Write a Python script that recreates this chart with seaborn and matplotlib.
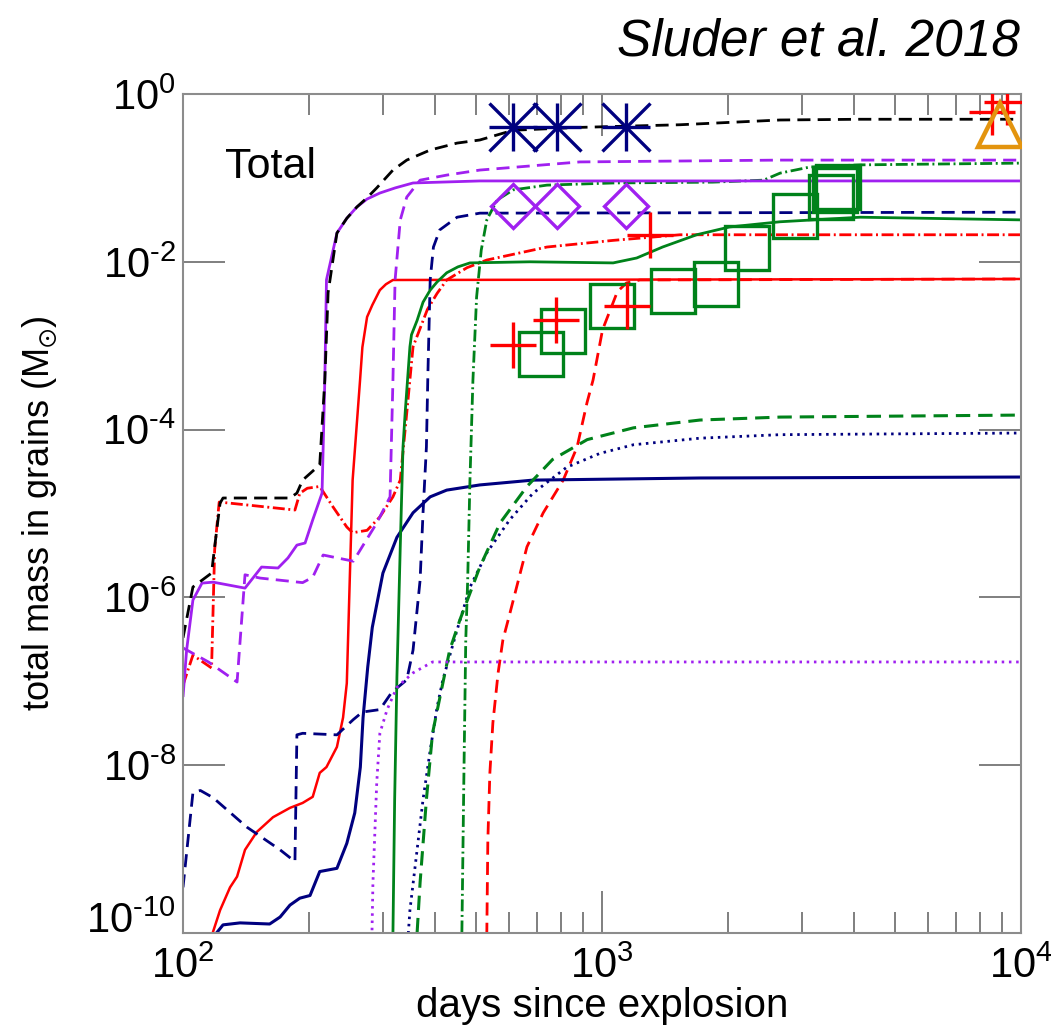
import matplotlib
matplotlib.use("Agg")
import matplotlib.pyplot as plt
import seaborn as sns
from matplotlib.ticker import FixedLocator, NullFormatter, NullLocator

# ---- grain-mass tracks (days since explosion, total mass in Msun) ----
total_t = [100, 105.6, 117, 119, 122.6, 124.6, 180, 187, 193, 212, 218, 222, 233, 246, 260,
           275, 290, 317, 342, 389, 451, 511, 614, 885, 1535, 2661, 4133, 10000]
total_m = [3.3e-7, 1.33e-6, 1.95e-6, 4.0e-6, 1.33e-5, 1.53e-5, 1.53e-5, 1.75e-5, 2.5e-5,
           3.8e-5, 3.9e-4, 4.3e-3, 0.022, 0.033, 0.045, 0.058, 0.076, 0.124, 0.163, 0.215,
           0.26, 0.283, 0.37, 0.40, 0.43, 0.49, 0.50, 0.50]

purple_solid_t = [100, 102, 105.6, 111, 118, 140.6, 154, 168.6, 178, 187, 195.6, 204,
                  214.7, 218, 220, 233, 246, 260, 275, 295, 321, 354, 511, 10000]
purple_solid_m = [6.5e-8, 2.35e-7, 9.3e-7, 1.48e-6, 1.52e-6, 1.29e-6, 2.3e-6, 2.24e-6,
                  2.95e-6, 4.2e-6, 4.45e-6, 8.4e-6, 1.75e-5, 3.9e-4, 6.1e-3, 0.022, 0.033,
                  0.045, 0.056, 0.066, 0.076, 0.087, 0.092, 0.092]

purple_dash_t = [100, 115, 134.6, 140.6, 152.7, 193, 204, 216, 255, 290, 312, 317, 320.7,
                 330, 342, 368, 426, 511, 885, 2661, 10000]
purple_dash_m = [2.5e-7, 1.7e-7, 9.8e-8, 1.86e-6, 1.7e-6, 1.5e-6, 1.74e-6, 3.2e-6, 2.7e-6,
                 7.7e-6, 1.58e-5, 3.9e-4, 6.0e-3, 0.0315, 0.059, 0.094, 0.108, 0.124, 0.155,
                 0.163, 0.163]

purple_dot_t = [280, 284, 290, 295, 307, 324, 354, 394, 10000]
purple_dot_m = [1e-11, 4.0e-10, 6.2e-9, 2.4e-8, 4.6e-8, 8.5e-8, 1.26e-7, 1.7e-7, 1.7e-7]

navy_solid_t = [116, 124.6, 136.8, 161, 170.5, 180, 190, 201, 212, 233, 246, 257, 265, 269,
                276, 283, 300, 324, 354, 389, 426, 511, 684, 1713, 10000]
navy_solid_m = [8e-11, 1.25e-10, 1.32e-10, 1.28e-10, 1.55e-10, 2.15e-10, 2.6e-10, 2.8e-10,
                5.4e-10, 5.9e-10, 1.17e-9, 2.7e-9, 9.5e-9, 3.7e-8, 1.48e-7, 4.4e-7, 1.95e-6,
                5.2e-6, 1.02e-5, 1.58e-5, 1.9e-5, 2.19e-5, 2.5e-5, 2.65e-5, 2.72e-5]

navy_dash_t = [100, 105.6, 110, 118, 142, 170.5, 185, 187, 193, 233, 255, 268, 295, 315, 342,
               354, 368, 374, 381, 384, 389, 396, 410, 451, 511, 10000]
navy_dash_m = [3.5e-10, 4.7e-9, 5.0e-9, 4.1e-9, 1.83e-9, 9.8e-10, 7.1e-10, 2.3e-8, 2.4e-8,
               2.3e-8, 3.5e-8, 4.3e-8, 4.6e-8, 7.4e-8, 1.04e-7, 2.35e-7, 1.6e-6, 1.02e-5,
               6.2e-5, 4.3e-4, 6.1e-3, 0.015, 0.024, 0.034, 0.038, 0.039]

navy_dot_t = [343, 345, 348, 362, 374, 389, 404, 417, 451, 484, 531, 602, 684, 823, 988,
              1189, 1713, 2661, 10000]
navy_dot_m = [3e-11, 1e-10, 1.87e-10, 9.8e-10, 3.9e-9, 1.5e-8, 4.9e-8, 1.04e-7, 4.1e-7,
              1.32e-6, 3.4e-6, 8.4e-6, 1.74e-5, 3.55e-5, 5.2e-5, 6.6e-5, 7.9e-5, 8.7e-5, 9.1e-5]

red_solid_t = [116, 122.6, 129.5, 134.6, 140.6, 150, 164, 180, 193, 204, 212, 220, 233, 241,
               246, 250, 254, 264.6, 268, 275, 283, 295, 305, 317, 10000]
red_solid_m = [8e-11, 1.87e-10, 3.5e-10, 4.7e-10, 9.8e-10, 1.6e-9, 2.4e-9, 3.1e-9, 3.55e-9,
               4.2e-9, 8.1e-9, 9.5e-9, 1.65e-8, 3.7e-8, 9.5e-8, 1.6e-6, 2.5e-5, 3.9e-4,
               9.6e-4, 2.2e-3, 3.05e-3, 4.6e-3, 5.4e-3, 6.07e-3, 6.24e-3]

red_dash_t = [528, 531, 534, 540, 549, 565, 580, 603, 662, 724, 808, 872, 921, 952, 1003,
              1088, 1144, 1231, 10000]
red_dash_m = [1e-11, 1e-10, 1.28e-9, 8.1e-9, 3.2e-8, 1.26e-7, 3.1e-7, 6.5e-7, 4.0e-6,
              1.02e-5, 2.5e-5, 6.2e-5, 2.1e-4, 3.9e-4, 1.55e-3, 4.4e-3, 5.6e-3, 6.07e-3, 6.24e-3]

red_dashdot_t = [100, 105.6, 117, 119, 122, 185, 190, 198, 212, 228, 246, 254, 275, 295, 317,
                 330, 342, 354, 383, 404, 426, 476, 531, 739, 1063, 1535, 10000]
red_dashdot_m = [9e-8, 2.05e-7, 1.44e-7, 3.7e-6, 1.37e-5, 1.1e-5, 1.74e-5, 2.0e-5, 2.1e-5,
                 1.2e-5, 6.9e-6, 5.9e-6, 6.3e-6, 9.1e-6, 1.58e-5, 2.5e-5, 1.58e-4, 9.7e-4,
                 2.7e-3, 4.2e-3, 6.07e-3, 8.5e-3, 0.0105, 0.015, 0.018, 0.021, 0.021]

green_solid_t = [316, 317, 320, 324, 330, 335, 339, 348, 351, 362, 374, 389, 404, 426, 453,
                 484, 673, 1063, 1210, 1395, 1682, 2014, 2661, 4133, 10000]
green_solid_m = [1e-11, 1e-10, 3.9e-9, 1.12e-7, 4.0e-6, 6.2e-5, 1.58e-4, 9.7e-4, 1.35e-3,
                 2.0e-3, 3.3e-3, 4.6e-3, 5.75e-3, 7.4e-3, 8.7e-3, 9.7e-3, 0.010, 9.7e-3,
                 0.0111, 0.015, 0.021, 0.026, 0.030, 0.034, 0.0316]

green_dash_t = [360, 362, 368, 381, 394, 417, 433, 458, 511, 571, 662, 762, 922, 1189, 1713,
                2661, 10000]
green_dash_m = [3e-11, 1e-10, 4.0e-10, 3.9e-9, 2.4e-8, 9.5e-8, 2.35e-7, 5.4e-7, 2.3e-6,
                7.7e-6, 2.1e-5, 4.4e-5, 7.6e-5, 1.05e-4, 1.3e-4, 1.41e-4, 1.49e-4]

green_dashdot_t = [462, 463, 468, 473, 478, 484, 492, 502, 515, 531, 562, 614, 739, 1063,
                   1839, 2430, 2661, 3140, 4133, 10000]
green_dashdot_m = [1e-11, 1e-10, 6.6e-9, 3.1e-7, 1.6e-6, 2.5e-5, 3.9e-4, 3.8e-3, 0.0138,
                   0.0316, 0.0546, 0.072, 0.082, 0.087, 0.089, 0.094, 0.114, 0.135, 0.143, 0.150]

# ---- observed dust masses ----
star_t = [614, 781, 1144]
star_m = [0.40, 0.40, 0.40]
diamond_t = [614, 781, 1144]
diamond_m = [0.046, 0.046, 0.046]
plus_t = [614, 777, 1148, 1304, 8530, 9270]
plus_m = [1.02e-3, 2.03e-3, 2.97e-3, 0.0209, 0.61, 0.80]
square_t = [714, 807, 1056, 1476, 1871, 2218, 2890, 3524, 3600, 3660]
square_m = [7.9e-4, 1.5e-3, 2.97e-3, 4.49e-3, 5.44e-3, 0.0146, 0.0352, 0.0592, 0.0717, 0.078]
triangle_t = [8920]
triangle_m = [0.427]

xtick_vals = [1e2, 1e3, 1e4]
xtick_text = [r"$10^{2}$", r"$10^{3}$", r"$10^{4}$"]
ytick_vals = [1e-10, 1e-8, 1e-6, 1e-4, 1e-2, 1e0]
ytick_text = [r"$10^{‐10}$", r"$10^{‐8}$", r"$10^{‐6}$", r"$10^{‐4}$", r"$10^{‐2}$",
              r"$10^{0}$"]

# ---- style ----
sns.set_theme(style="white")
plt.rcParams["font.family"] = ["Liberation Sans", "DejaVu Sans"]
plt.rcParams["mathtext.fontset"] = "custom"
plt.rcParams["mathtext.rm"] = "Liberation Sans"
plt.rcParams["mathtext.it"] = "Liberation Sans:italic"
plt.rcParams["mathtext.default"] = "regular"
plt.rcParams["lines.dash_capstyle"] = "butt"
plt.rcParams["lines.solid_capstyle"] = "butt"

BLACK = "#000000"
PURPLE = "#A020F0"
NAVY = "#00007F"
RED = "#FF0000"
GREEN = "#00821A"
ORANGE = "#E3940E"

SOLID = "-"
DASH = (0, (4.7, 2.6))
DASHDOT = (0, (4.3, 1.3, 0.7, 1.3))
DOT = (0, (0.9, 1.7))

fig = plt.figure(figsize=(10.51, 10.33), dpi=100)
ax = fig.add_axes([183 / 1051, 1 - 933 / 1033, 838 / 1051, 839 / 1033])
ax.set_xscale("log")
ax.set_yscale("log")

tracks = [
    (red_solid_t, red_solid_m, RED, SOLID, 1.8),
    (red_dash_t, red_dash_m, RED, DASH, 2.0),
    (red_dashdot_t, red_dashdot_m, RED, DASHDOT, 2.0),
    (navy_solid_t, navy_solid_m, NAVY, SOLID, 2.2),
    (navy_dash_t, navy_dash_m, NAVY, DASH, 2.0),
    (navy_dot_t, navy_dot_m, NAVY, DOT, 2.0),
    (green_solid_t, green_solid_m, GREEN, SOLID, 2.0),
    (green_dash_t, green_dash_m, GREEN, DASH, 2.2),
    (green_dashdot_t, green_dashdot_m, GREEN, DASHDOT, 2.0),
    (purple_dot_t, purple_dot_m, PURPLE, DOT, 2.0),
    (purple_dash_t, purple_dash_m, PURPLE, DASH, 2.0),
    (purple_solid_t, purple_solid_m, PURPLE, SOLID, 2.0),
    (total_t, total_m, BLACK, DASH, 2.0),
]
for t, m, c, ls, lw in tracks:
    sns.lineplot(x=t, y=m, ax=ax, color=c, linestyle=ls, linewidth=lw,
                 estimator=None, sort=False)

# observations
mk = dict(linestyle="none", zorder=5)
ax.plot(square_t, square_m, marker="s", ms=32, mfc="none", mec=GREEN, mew=2.4, **mk)
ax.plot(diamond_t, diamond_m, marker="D", ms=22.5, mfc="none", mec=PURPLE, mew=2.4, **mk)
ax.plot(star_t, star_m, marker="+", ms=34, mec=NAVY, mew=2.4, **mk)
ax.plot(star_t, star_m, marker="x", ms=34, mec=NAVY, mew=2.4, **mk)
ax.plot(plus_t, plus_m, marker="+", ms=33, mec=RED, mew=2.4, **mk)
ax.plot(triangle_t, triangle_m, marker="^", ms=32, mfc="none", mec=ORANGE, mew=3.2, **mk)

ax.set_xlim(100, 1e4)
ax.set_ylim(1e-10, 1)

ax.xaxis.set_major_locator(FixedLocator(xtick_vals))
ax.set_xticklabels(xtick_text)
ax.xaxis.set_minor_locator(FixedLocator([200, 300, 400, 500, 600, 700, 800, 900,
                                         2000, 3000, 4000, 5000, 6000, 7000, 8000, 9000]))
ax.xaxis.set_minor_formatter(NullFormatter())
ax.yaxis.set_major_locator(FixedLocator(ytick_vals))
ax.set_yticklabels(ytick_text)
ax.yaxis.set_minor_locator(NullLocator())
# the lowest label rests on its tick, clear of the x labels
ax.get_yticklabels()[0].set_verticalalignment("baseline")

ax.tick_params(which="both", direction="in", top=True, right=True, bottom=True, left=True,
               color="#6a6a6a", width=1.2)
ax.tick_params(which="major", length=30)
ax.tick_params(which="minor", length=15)
ax.tick_params(axis="x", which="major", labelsize=30, pad=10, colors="#6a6a6a",
               labelcolor="black")
ax.tick_params(axis="y", which="major", labelsize=30, pad=5, colors="#6a6a6a",
               labelcolor="black")
for sp in ax.spines.values():
    sp.set_color("#8c8c8c")
    sp.set_linewidth(1.5)

ax.set_xlabel("days since explosion", fontsize=29, color="black")
ax.set_ylabel(r"total mass in grains (M$_{\odot}$)", fontsize=26, color="black")
ax.xaxis.set_label_coords(0.5, -0.064)
ax.yaxis.set_label_coords(-0.148, 0.5)

ax.text(0.05, 0.90, "Total", transform=ax.transAxes, fontsize=31, va="baseline",
        color="black")
fig.text(1020 / 1051, 1 - 55 / 1033, "Sluder et al. 2018", ha="right", va="baseline",
         fontsize=37, style="italic", color="black")

fig.savefig("out.png", dpi=100, facecolor="white")
